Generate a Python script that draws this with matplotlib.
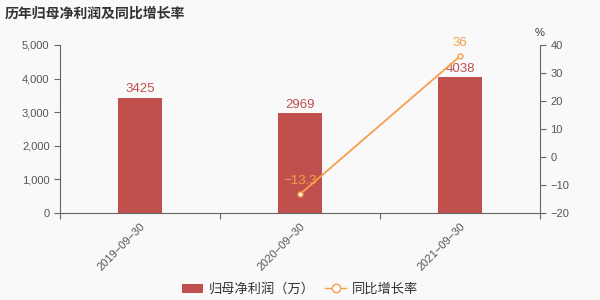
import matplotlib.pyplot as plt
from matplotlib.ticker import FuncFormatter, FixedLocator
from matplotlib.lines import Line2D
from matplotlib.patches import Patch

plt.rcParams['font.family'] = ['Liberation Sans', 'Noto Sans CJK SC', 'DejaVu Sans']

dates = ['2019-09-30', '2020-09-30', '2021-09-30']
profit = [3425, 2969, 4038]
growth = [None, -13.3, 36]
growth_labels = ['', '-13.3', '36']

bar_color = '#c0504d'
line_color = '#f5a04a'
bg = '#f9f9f9'
axis_color = '#666666'

fig = plt.figure(figsize=(6, 3), dpi=100, facecolor=bg)
ax = fig.add_axes([0.1, 0.29, 0.8, 0.56], facecolor=bg)

x = list(range(len(dates)))
ax.bar(x, profit, width=0.28, color=bar_color, zorder=2)
for xi, v in zip(x, profit):
    ax.text(xi, v + 80, str(v), ha='center', va='bottom', color=bar_color, fontsize=9.5)

ax.set_xlim(-0.5, len(dates) - 0.5)
ax.set_ylim(0, 5000)
ax.set_yticks(range(0, 5001, 1000))
ax.yaxis.set_major_formatter(FuncFormatter(lambda v, p: f'{int(v):,}'))
ax.xaxis.set_major_locator(FixedLocator([-0.5, 0.5, 1.5, 2.5]))
ax.set_xticklabels([])
ax.xaxis.set_minor_locator(FixedLocator(x))
ax.set_xticklabels([d.replace('-', '\u2212') for d in dates], minor=True, rotation=45,
                   ha='right', rotation_mode='anchor')
ax.tick_params(axis='x', which='minor', length=0, labelsize=8, labelcolor='#555555', pad=6)
ax.tick_params(axis='x', which='major', length=4, color=axis_color)
ax.tick_params(axis='y', labelsize=8, labelcolor='#555555', length=4, color=axis_color)
for s in ['top', 'right']:
    ax.spines[s].set_visible(False)
for s in ['left', 'bottom']:
    ax.spines[s].set_color(axis_color)

ax2 = ax.twinx()
ax2.set_ylim(-20, 40)
ax2.set_yticks(range(-20, 41, 10))
ax2.yaxis.set_major_formatter(FuncFormatter(lambda v, p: f'{int(v)}'.replace('-', '\u2212')))
ax2.tick_params(axis='y', labelsize=8, labelcolor='#555555', length=4, color=axis_color)
for s in ['top', 'left', 'bottom']:
    ax2.spines[s].set_visible(False)
ax2.spines['right'].set_color(axis_color)

gx = [xi for xi, g in zip(x, growth) if g is not None]
gy = [g for g in growth if g is not None]
ax2.plot(gx, gy, color=line_color, lw=1.3, marker='o', ms=3.5,
         markerfacecolor='white', markeredgecolor=line_color, zorder=3)
for xi, g, lab in zip(x, growth, growth_labels):
    if g is not None:
        ax2.text(xi, g + 2.5, lab.replace('-', '\u2212'), ha='center', va='bottom',
                 color=line_color, fontsize=9.5)

ax2.text(1.0, 1.04, '%', transform=ax2.transAxes, ha='center', va='bottom',
         fontsize=8, color='#333333')

fig.text(0.008, 0.955, '历年归母净利润及同比增长率', fontsize=10, fontweight='bold',
         color='#333333', va='center', ha='left')

handles = [Patch(facecolor=bar_color, edgecolor='none'),
           Line2D([0], [0], color=line_color, lw=1, marker='o', ms=6,
                  markerfacecolor='white', markeredgecolor=line_color)]
fig.legend(handles, ['归母净利润（万）', '同比增长率'], loc='center', ncol=2,
           bbox_to_anchor=(0.5, 0.035), frameon=False, fontsize=9.5,
           handlelength=1.6, handletextpad=0.4, columnspacing=0.8, labelcolor='#333333')

fig.savefig('out.png', dpi=100, facecolor=bg)
